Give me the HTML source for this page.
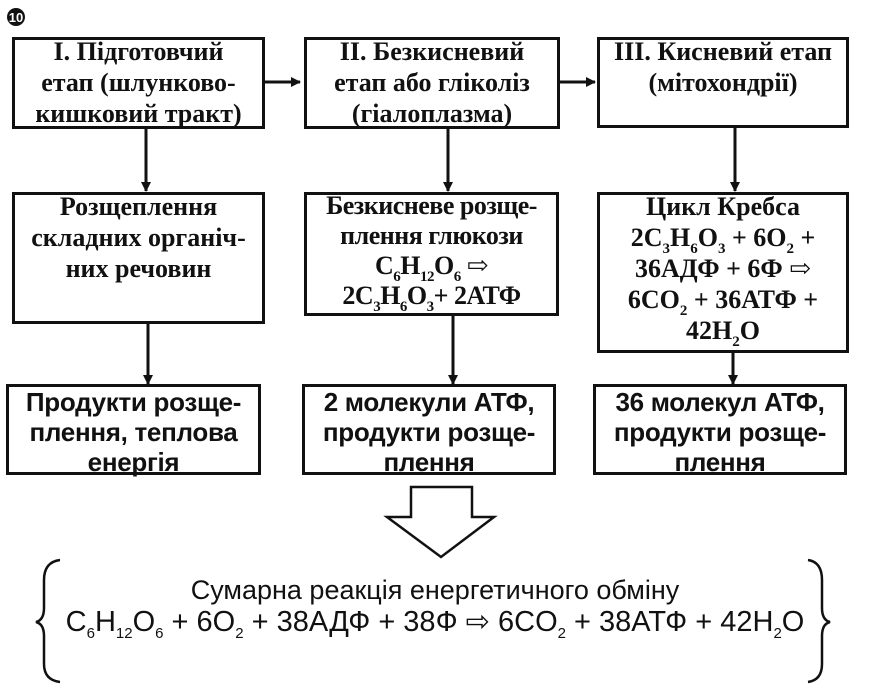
<!DOCTYPE html>
<html><head><meta charset="utf-8"><style>
body{margin:0;width:870px;height:700px;background:#fff;position:relative;overflow:hidden;font-family:"Liberation Serif","DejaVu Serif",serif;color:#111}
.b{position:absolute;border:3px solid #111;box-sizing:border-box;text-align:center;font-weight:bold;font-size:26px;line-height:31px;white-space:nowrap}
.b>div{position:relative;top:-4px}
.b>div.c{top:0;font-family:"Liberation Sans Narrow","Liberation Sans",sans-serif;font-weight:bold;font-size:26px;line-height:30px;letter-spacing:-0.3px}
sub{font-size:15px;vertical-align:-7px;line-height:0}
svg{position:absolute;left:0;top:0}
.t{position:absolute;left:0;width:870px;text-align:center;font-family:"Liberation Sans Narrow","Liberation Sans",sans-serif;white-space:nowrap;line-height:30px}
</style></head><body>
<svg width="870" height="700">
<defs><marker id="a" markerWidth="10" markerHeight="10" refX="9" refY="5" orient="auto" markerUnits="userSpaceOnUse"><path d="M0,0 L10,5 L0,10 z" fill="#111"/></marker></defs>
<g stroke="#111" stroke-width="3" fill="none">
<line x1="265" y1="82" x2="300" y2="82" marker-end="url(#a)"/>
<line x1="560" y1="82" x2="595" y2="82" marker-end="url(#a)"/>
<line x1="146" y1="128" x2="146" y2="191" marker-end="url(#a)"/>
<line x1="448" y1="128" x2="448" y2="191" marker-end="url(#a)"/>
<line x1="735" y1="127" x2="735" y2="191" marker-end="url(#a)"/>
<line x1="148" y1="323" x2="148" y2="384" marker-end="url(#a)"/>
<line x1="453" y1="316" x2="453" y2="384" marker-end="url(#a)"/>
<line x1="733" y1="352" x2="733" y2="384" marker-end="url(#a)"/>
<path d="M411,487 L472,487 L472,517 L494,517 L441,557 L387,517 L411,517 Z" stroke-width="2.5"/>
<path d="M60,560 Q44,562 44,580 L44,608 Q44,620 36,622 Q44,624 44,636 L44,664 Q44,680 60,682" stroke-width="2.5"/>
<path d="M808,560 Q822,562 822,580 L822,608 Q822,620 830,622 Q822,624 822,636 L822,664 Q822,680 808,682" stroke-width="2.5"/>
</g>
<circle cx="16" cy="17" r="9" fill="#111"/>
<text x="16" y="22" font-size="13" font-weight="bold" fill="#fff" text-anchor="middle" font-family="Liberation Sans">10</text>
</svg>
<div class="b" style="left:12px;top:37px;width:253px;height:92px"><div>І. Підготовчий<br>етап (шлунково-<br>кишковий тракт)</div></div>
<div class="b" style="left:304px;top:37px;width:256px;height:92px"><div>ІІ. Безкисневий<br>етап або гліколіз<br>(гіалоплазма)</div></div>
<div class="b" style="left:597px;top:37px;width:252px;height:91px"><div>ІІІ. Кисневий етап<br>(мітохондрії)</div></div>
<div class="b" style="left:12px;top:192px;width:253px;height:132px"><div>Розщеплення<br>складних органіч-<br>них речовин</div></div>
<div class="b" style="left:304px;top:192px;width:255px;height:124px;line-height:30px"><div style="letter-spacing:-0.5px">Безкисневе розще-<br>плення глюкози<br>C<sub>6</sub>H<sub>12</sub>O<sub>6</sub> ⇨<br>2C<sub>3</sub>H<sub>6</sub>O<sub>3</sub>+ 2АТФ</div></div>
<div class="b" style="left:597px;top:192px;width:252px;height:161px"><div>Цикл Кребса<br>2C<sub>3</sub>H<sub>6</sub>O<sub>3</sub> + 6O<sub>2</sub> +<br>36АДФ + 6Ф ⇨<br>6CO<sub>2</sub> + 36АТФ +<br>42H<sub>2</sub>O</div></div>
<div class="b" style="left:6px;top:384px;width:255px;height:91px"><div class="c">Продукти розще-<br>плення, теплова<br>енергія</div></div>
<div class="b" style="left:302px;top:384px;width:254px;height:91px"><div class="c">2 молекули АТФ,<br>продукти розще-<br>плення</div></div>
<div class="b" style="left:593px;top:384px;width:254px;height:91px"><div class="c">36 молекул АТФ,<br>продукти розще-<br>плення</div></div>
<div class="t" style="top:575px;font-size:27px">Сумарна реакція енергетичного обміну</div>
<div class="t" style="top:607px;font-size:29px">C<sub>6</sub>H<sub>12</sub>O<sub>6</sub> + 6O<sub>2</sub> + 38АДФ + 38Ф ⇨ 6CO<sub>2</sub> + 38АТФ + 42H<sub>2</sub>O</div>
</body></html>
